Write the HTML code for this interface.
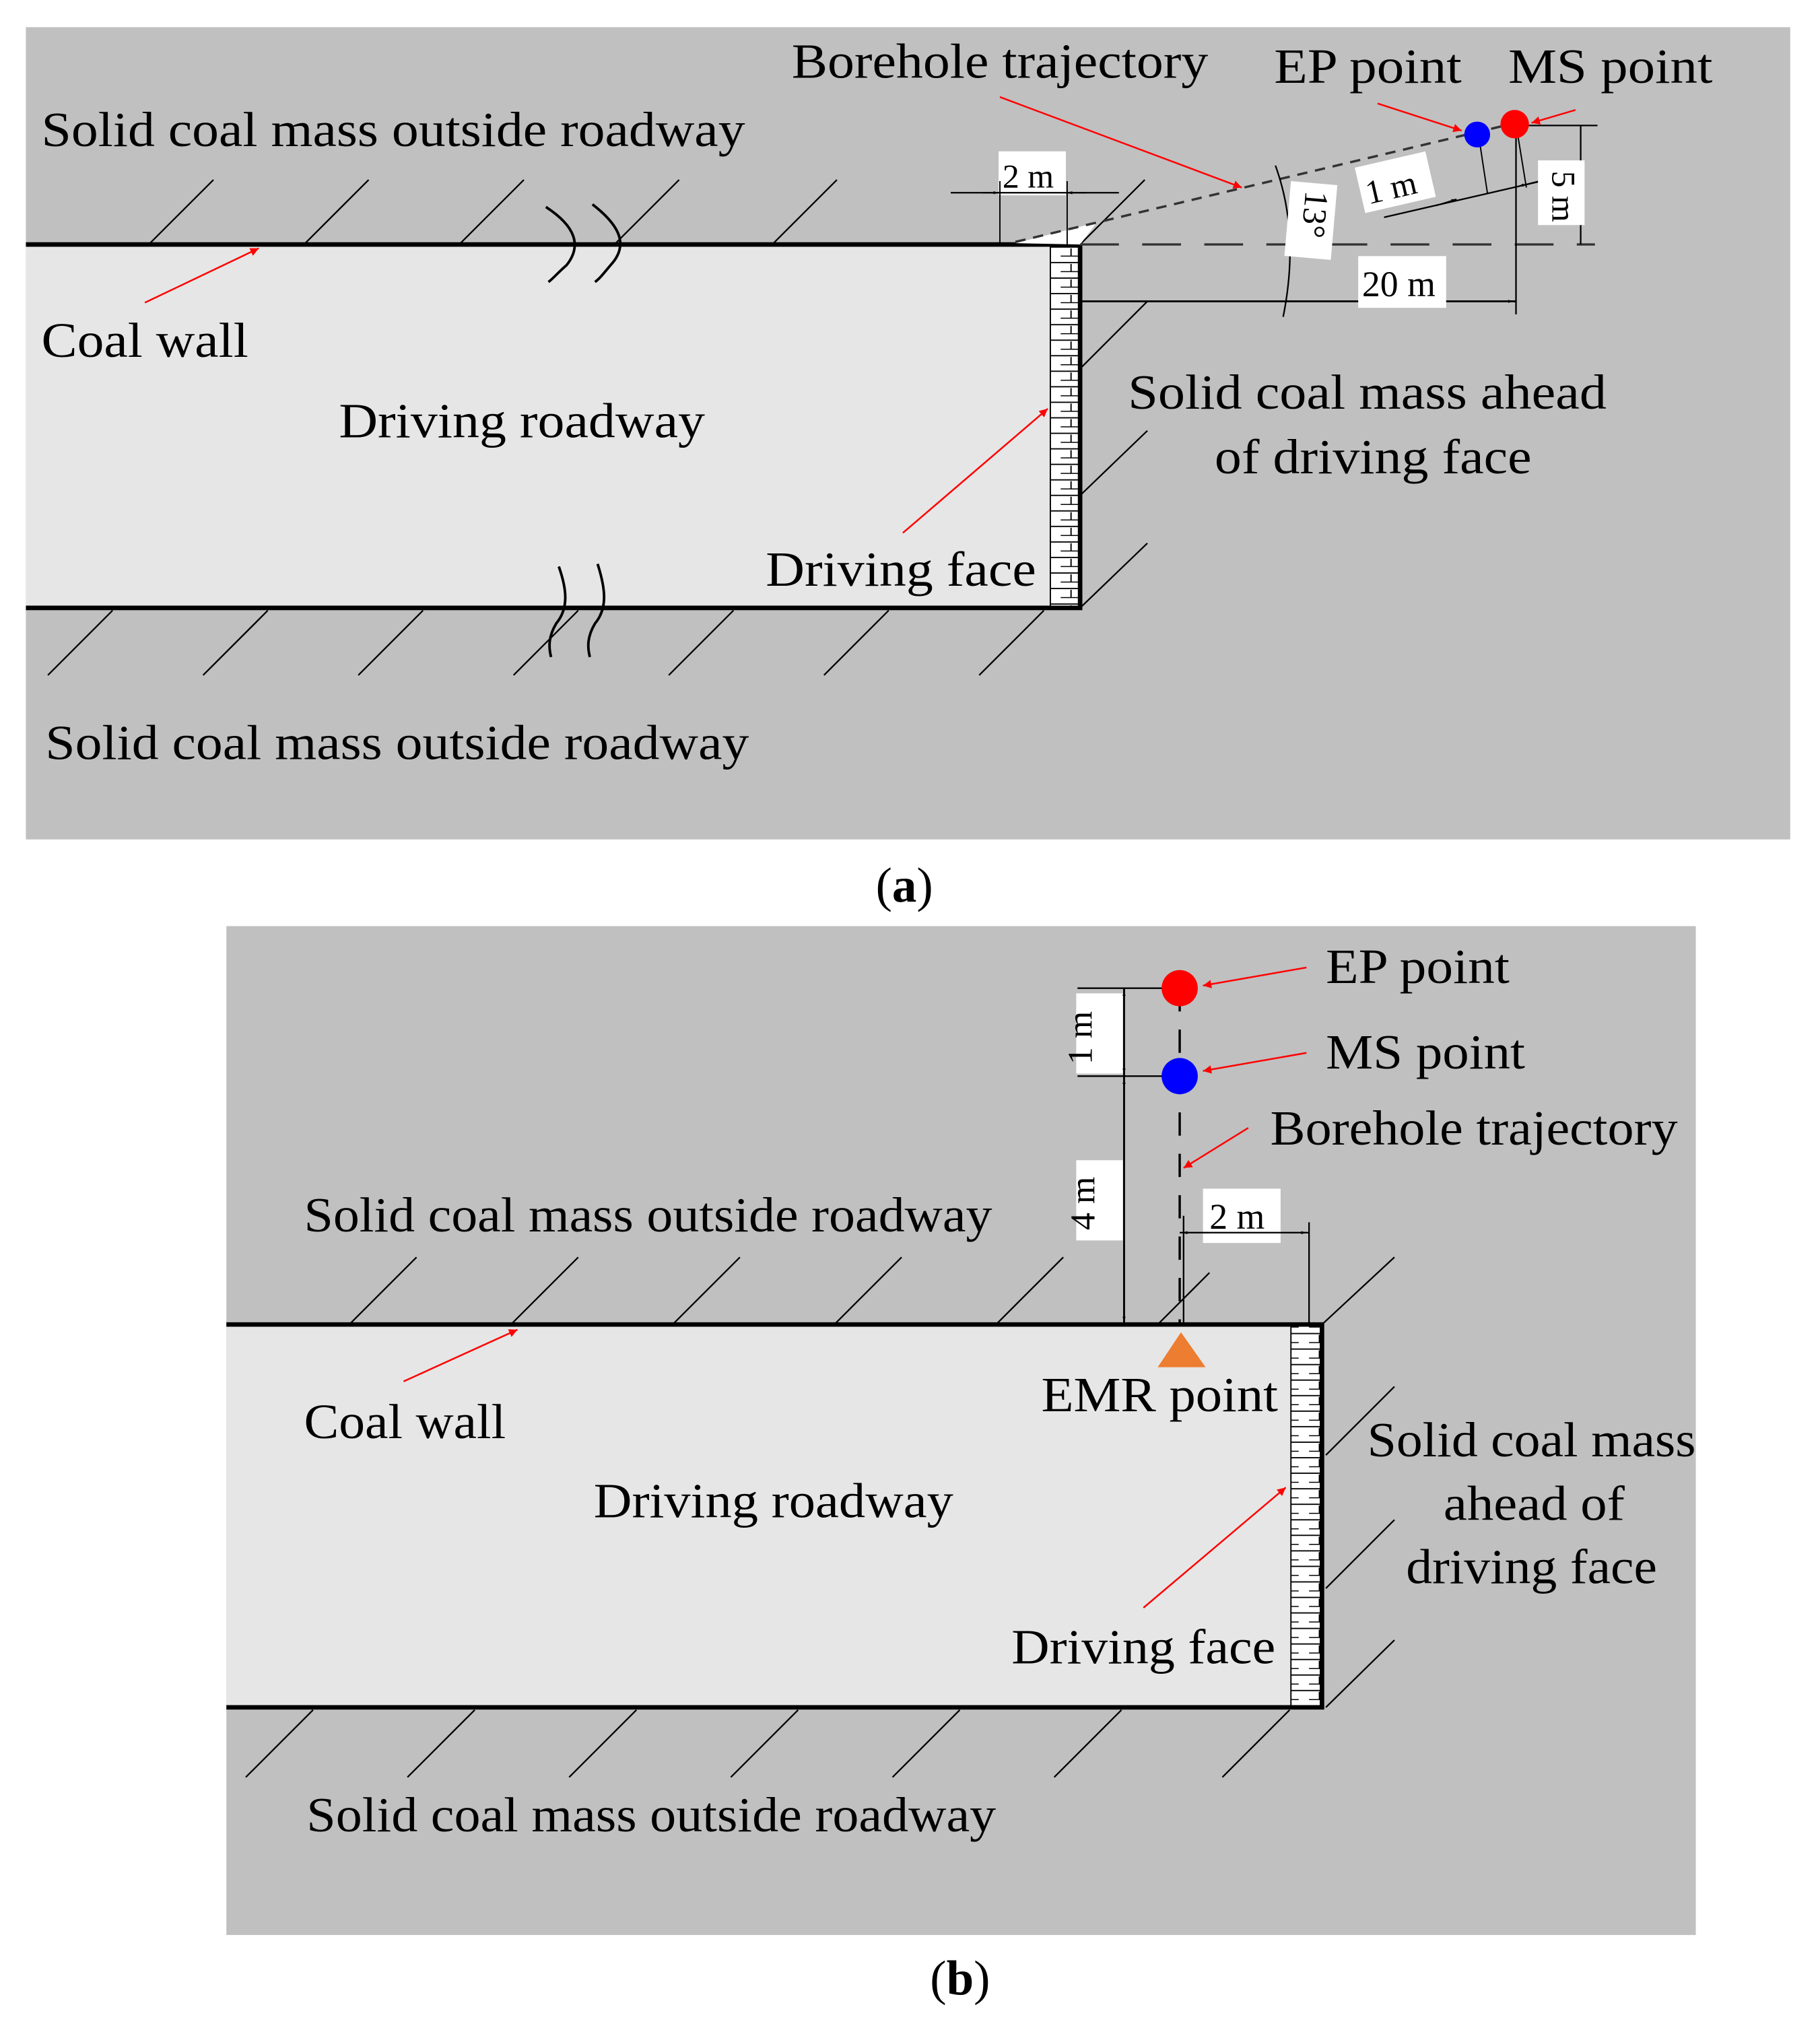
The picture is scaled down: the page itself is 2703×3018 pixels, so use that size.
<!DOCTYPE html>
<html><head><meta charset="utf-8"><style>
html,body{margin:0;padding:0;background:#fff}
svg{display:block}
text{font-family:"Liberation Serif",serif;fill:#000}
</style></head><body>
<svg width="2703" height="3018" viewBox="0 0 1407 1571" xmlns="http://www.w3.org/2000/svg">
<defs>
<pattern id="brick" x="0" y="0" width="24" height="12" patternUnits="userSpaceOnUse">
<rect width="24" height="12" fill="#fff"/>
<line x1="0" y1="11" x2="24" y2="11" stroke="#000" stroke-width="1"/>
<line x1="12" y1="0" x2="12" y2="6" stroke="#000" stroke-width="1"/>
<line x1="4" y1="6" x2="20" y2="6" stroke="#000" stroke-width="0.8"/>
</pattern>
<marker id="ra" viewBox="0 0 10 10" refX="10" refY="5" markerWidth="5" markerHeight="5" orient="auto-start-reverse"><path d="M0,0L10,5L0,10z" fill="#f00"/></marker>
<marker id="ka" viewBox="0 0 10 10" refX="10" refY="5" markerWidth="4" markerHeight="4" orient="auto-start-reverse"><path d="M0,2L10,5L0,8z" fill="#000"/></marker>
</defs>

<!-- PANEL A -->
<rect x="20" y="21" width="1364" height="628" fill="#c0c0c0"/>
<rect x="20" y="189" width="815" height="281" fill="#e6e6e6"/>
<rect x="812" y="189" width="23" height="281" fill="url(#brick)"/>
<line x1="812" y1="189" x2="812" y2="470" stroke="#000" stroke-width="1"/>
<path d="M20,189H835V470H20" fill="none" stroke="#000" stroke-width="3.5"/>
<g fill="none" stroke="#000" stroke-width="2">
<path d="M422,160 C445,175 450,190 438,205 C430,212 428,215 424,218"/>
<path d="M458,158 C480,175 486,190 472,205 C466,212 464,215 460,218"/>
<path d="M432,438 C438,455 440,470 430,482 C424,492 424,500 426,508"/>
<path d="M462,436 C468,455 470,470 460,482 C454,492 454,500 456,508"/>
</g>
<g stroke="#000" stroke-width="1.2">
<line x1="115" y1="189" x2="165" y2="139"/><line x1="235" y1="189" x2="285" y2="139"/>
<line x1="355" y1="189" x2="405" y2="139"/><line x1="475" y1="189" x2="525" y2="139"/>
<line x1="597" y1="189" x2="647" y2="139"/><line x1="835" y1="189" x2="885" y2="139"/>
<line x1="835" y1="285" x2="887" y2="233"/><line x1="835" y1="383" x2="887" y2="333"/>
<line x1="835" y1="470" x2="887" y2="420"/>
<line x1="37" y1="522" x2="87" y2="472"/><line x1="157" y1="522" x2="207" y2="472"/>
<line x1="277" y1="522" x2="327" y2="472"/><line x1="397" y1="522" x2="447" y2="472"/>
<line x1="517" y1="522" x2="567" y2="472"/><line x1="637" y1="522" x2="687" y2="472"/>
<line x1="757" y1="522" x2="807" y2="472"/>
</g>
<path d="M785,188 L848,172 L835,189 Z" fill="#fff"/>
<line x1="785" y1="187" x2="1172" y2="95" stroke="#333" stroke-width="1.8" stroke-dasharray="8,6"/>
<line x1="835" y1="189" x2="1233" y2="189" stroke="#333" stroke-width="1.8" stroke-dasharray="30,18"/>
<rect x="772" y="117" width="52" height="34" fill="#fff"/>
<text x="775" y="145" font-size="26">2 m</text>
<line x1="735" y1="149" x2="865" y2="149" stroke="#000" stroke-width="1.2"/>
<line x1="760" y1="149" x2="772" y2="149" stroke="#000" marker-end="url(#ka)"/>
<line x1="840" y1="149" x2="825" y2="149" stroke="#000" marker-end="url(#ka)"/>
<line x1="773" y1="140" x2="773" y2="189" stroke="#000"/>
<line x1="825" y1="140" x2="825" y2="189" stroke="#000"/>
<path d="M986,128 Q1005,180 992,245" fill="none" stroke="#000" stroke-width="1.2"/>
<g transform="translate(998,140) rotate(5)"><rect x="0" y="0" width="36" height="58" fill="#fff"/><text x="6" y="6" font-size="26" transform="rotate(90 6 6) translate(0,-6)">13°</text></g>
<g transform="translate(1058,158) rotate(-13)"><rect x="-4" y="-30" width="56" height="36" fill="#fff"/><text x="0" y="0" font-size="26">1 m</text></g>
<line x1="1070" y1="168" x2="1196" y2="139" stroke="#000" stroke-width="1.2"/>
<line x1="1110" y1="159" x2="1126" y2="154" stroke="#000" marker-end="url(#ka)"/>
<line x1="1190" y1="140" x2="1174" y2="144" stroke="#000" marker-end="url(#ka)"/>
<line x1="1143" y1="104" x2="1150" y2="150" stroke="#000"/>
<line x1="1172" y1="96" x2="1180" y2="145" stroke="#000"/>
<line x1="1172" y1="97" x2="1235" y2="97" stroke="#000" stroke-width="1.2"/>
<line x1="1222" y1="97" x2="1222" y2="189" stroke="#000" stroke-width="1.2"/>
<rect x="1189" y="124" width="36" height="50" fill="#fff"/>
<text x="1200" y="132" font-size="26" transform="rotate(90 1200 132)">5 m</text>
<line x1="1172" y1="97" x2="1172" y2="243" stroke="#000" stroke-width="1.2"/>
<line x1="836" y1="233" x2="1172" y2="233" stroke="#000" stroke-width="1.5"/>
<line x1="1150" y1="233" x2="1170" y2="233" stroke="#000" marker-end="url(#ka)"/>
<rect x="1050" y="198" width="68" height="40" fill="#fff"/>
<text x="1053" y="229" font-size="28">20 m</text>
<circle cx="1142" cy="104" r="10" fill="#0000ff"/>
<circle cx="1171" cy="96" r="11" fill="#ff0000"/>
<g stroke="#f00" stroke-width="1.3" fill="none">
<line x1="773" y1="75" x2="960" y2="145" marker-end="url(#ra)"/>
<line x1="1065" y1="80" x2="1130" y2="101" marker-end="url(#ra)"/>
<line x1="1218" y1="85" x2="1184" y2="95" marker-end="url(#ra)"/>
<line x1="112" y1="234" x2="200" y2="192" marker-end="url(#ra)"/>
<line x1="698" y1="412" x2="810" y2="316" marker-end="url(#ra)"/>
</g>
<g font-size="38">
<text x="612" y="60" textLength="322" lengthAdjust="spacingAndGlyphs">Borehole trajectory</text>
<text x="985" y="64" textLength="145" lengthAdjust="spacingAndGlyphs">EP point</text>
<text x="1166" y="64" textLength="158" lengthAdjust="spacingAndGlyphs">MS point</text>
<text x="32" y="113" textLength="544" lengthAdjust="spacingAndGlyphs">Solid coal mass outside roadway</text>
<text x="32" y="276" textLength="160" lengthAdjust="spacingAndGlyphs">Coal wall</text>
<text x="262" y="338" textLength="283" lengthAdjust="spacingAndGlyphs">Driving roadway</text>
<text x="872" y="316" textLength="370" lengthAdjust="spacingAndGlyphs">Solid coal mass ahead</text>
<text x="939" y="366" textLength="245" lengthAdjust="spacingAndGlyphs">of driving face</text>
<text x="592" y="453" textLength="209" lengthAdjust="spacingAndGlyphs">Driving face</text>
<text x="35" y="587" textLength="544" lengthAdjust="spacingAndGlyphs">Solid coal mass outside roadway</text>
<text x="677" y="697">(<tspan font-weight="bold">a</tspan>)</text>
</g>

<!-- PANEL B -->
<rect x="175" y="716" width="1136" height="780" fill="#c0c0c0"/>
<rect x="175" y="1024" width="847" height="296" fill="#e6e6e6"/>
<rect x="998" y="1024" width="24" height="296" fill="url(#brick)"/>
<line x1="998" y1="1024" x2="998" y2="1320" stroke="#000" stroke-width="1"/>
<path d="M175,1024H1022V1320H175" fill="none" stroke="#000" stroke-width="3.5"/>
<g stroke="#000" stroke-width="1.2">
<line x1="270" y1="1024" x2="322" y2="972"/><line x1="395" y1="1024" x2="447" y2="972"/>
<line x1="520" y1="1024" x2="572" y2="972"/><line x1="645" y1="1024" x2="697" y2="972"/>
<line x1="770" y1="1024" x2="822" y2="972"/><line x1="895" y1="1024" x2="935" y2="984"/>
<line x1="1022" y1="1024" x2="1078" y2="972"/>
<line x1="1025" y1="1125" x2="1078" y2="1072"/><line x1="1025" y1="1228" x2="1078" y2="1175"/>
<line x1="1025" y1="1320" x2="1078" y2="1268"/>
<line x1="190" y1="1374" x2="242" y2="1322"/><line x1="315" y1="1374" x2="367" y2="1322"/>
<line x1="440" y1="1374" x2="492" y2="1322"/><line x1="565" y1="1374" x2="617" y2="1322"/>
<line x1="690" y1="1374" x2="742" y2="1322"/><line x1="815" y1="1374" x2="867" y2="1322"/>
<line x1="945" y1="1374" x2="997" y2="1322"/>
</g>
<line x1="912" y1="764" x2="912" y2="1024" stroke="#000" stroke-width="1.8" stroke-dasharray="18,14"/>
<line x1="915" y1="940" x2="915" y2="1024" stroke="#000" stroke-width="1.2"/>
<line x1="833" y1="764" x2="912" y2="764" stroke="#000" stroke-width="1.2"/>
<line x1="833" y1="832" x2="912" y2="832" stroke="#000" stroke-width="1.2"/>
<line x1="869" y1="764" x2="869" y2="1024" stroke="#000" stroke-width="1.5"/>
<rect x="832" y="768" width="36" height="62" fill="#fff"/>
<text x="845" y="780" font-size="27" transform="rotate(-90 858 800) translate(-10,6)">1 m</text>
<rect x="832" y="897" width="36" height="62" fill="#fff"/>
<text x="845" y="910" font-size="27" transform="rotate(-90 858 928) translate(-10,6)">4 m</text>
<line x1="869" y1="790" x2="869" y2="766" stroke="#000" marker-end="url(#ka)"/>
<line x1="869" y1="806" x2="869" y2="830" stroke="#000" marker-end="url(#ka)"/>
<line x1="869" y1="856" x2="869" y2="834" stroke="#000" marker-end="url(#ka)"/>
<line x1="869" y1="1000" x2="869" y2="1022" stroke="#000" marker-end="url(#ka)"/>
<rect x="930" y="919" width="60" height="42" fill="#fff"/>
<text x="935" y="950" font-size="28">2 m</text>
<line x1="912" y1="953" x2="1012" y2="953" stroke="#000" stroke-width="1.2"/>
<line x1="935" y1="953" x2="914" y2="953" stroke="#000" marker-end="url(#ka)"/>
<line x1="990" y1="953" x2="1010" y2="953" stroke="#000" marker-end="url(#ka)"/>
<line x1="1012" y1="945" x2="1012" y2="1024" stroke="#000" stroke-width="1.2"/>
<circle cx="912" cy="764" r="14" fill="#ff0000"/>
<circle cx="912" cy="832" r="14" fill="#0000ff"/>
<path d="M913,1030 L895,1057 L932,1057 Z" fill="#ed7d31"/>
<g stroke="#f00" stroke-width="1.3" fill="none">
<line x1="1010" y1="748" x2="930" y2="762" marker-end="url(#ra)"/>
<line x1="1010" y1="814" x2="930" y2="828" marker-end="url(#ra)"/>
<line x1="965" y1="872" x2="915" y2="903" marker-end="url(#ra)"/>
<line x1="312" y1="1068" x2="400" y2="1028" marker-end="url(#ra)"/>
<line x1="884" y1="1243" x2="994" y2="1150" marker-end="url(#ra)"/>
</g>
<g font-size="38">
<text x="1025" y="760" textLength="142" lengthAdjust="spacingAndGlyphs">EP point</text>
<text x="1025" y="826" textLength="154" lengthAdjust="spacingAndGlyphs">MS point</text>
<text x="982" y="885" textLength="315" lengthAdjust="spacingAndGlyphs">Borehole trajectory</text>
<text x="235" y="952" textLength="532" lengthAdjust="spacingAndGlyphs">Solid coal mass outside roadway</text>
<text x="805" y="1091" textLength="183" lengthAdjust="spacingAndGlyphs">EMR point</text>
<text x="235" y="1112" textLength="156" lengthAdjust="spacingAndGlyphs">Coal wall</text>
<text x="1057" y="1126" textLength="254" lengthAdjust="spacingAndGlyphs">Solid coal mass</text>
<text x="1116" y="1175" textLength="140" lengthAdjust="spacingAndGlyphs">ahead of</text>
<text x="1087" y="1224" textLength="194" lengthAdjust="spacingAndGlyphs">driving face</text>
<text x="459" y="1173" textLength="278" lengthAdjust="spacingAndGlyphs">Driving roadway</text>
<text x="782" y="1286" textLength="204" lengthAdjust="spacingAndGlyphs">Driving face</text>
<text x="237" y="1416" textLength="533" lengthAdjust="spacingAndGlyphs">Solid coal mass outside roadway</text>
<text x="719" y="1542">(<tspan font-weight="bold">b</tspan>)</text>
</g>
</svg>
</body></html>
